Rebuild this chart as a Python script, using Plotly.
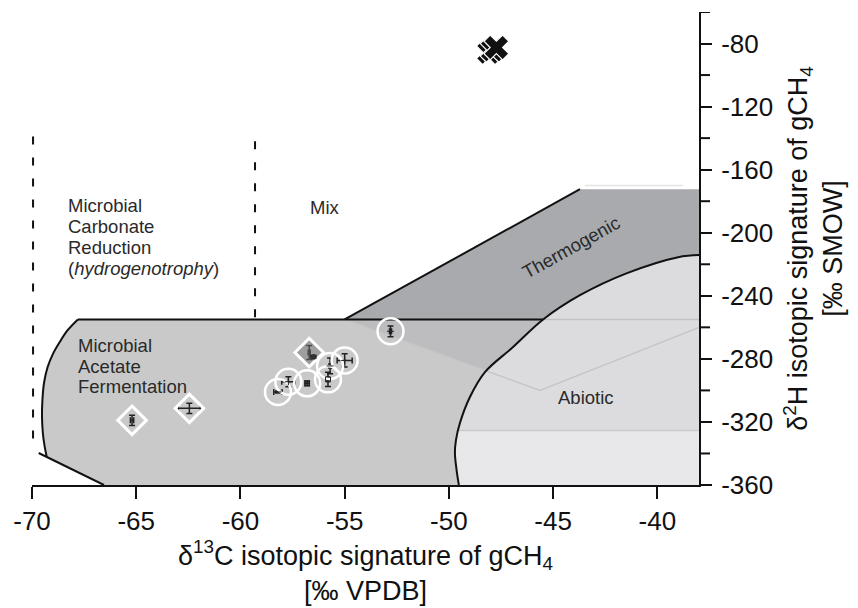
import plotly.graph_objects as go

# ---------------- axis ticks ----------------
x_tickvals = [-70, -65, -60, -55, -50, -45, -40]
x_ticktext = ["-70", "-65", "-60", "-55", "-50", "-45", "-40"]
y_tickvals = [-360, -320, -280, -240, -200, -160, -120, -80]
y_ticktext = ["-360", "-320", "-280", "-240", "-200", "-160", "-120", "-80"]
y_minorvals = [-340, -300, -260, -220, -180, -140, -100, -60]

# ---------------- field boundaries (data units) ----------------
abiotic_curve_x = [-49.52, -49.63, -49.71, -49.66, -49.47, -48.99, -48.27, -46.92, -45.48, -43.71, -41.45, -39.0, -38.0]
abiotic_curve_y = [-360.0, -350.5, -339.7, -331.5, -320.7, -304.2, -288.4, -272.5, -255.0, -239.6, -225.6, -215.5, -214.2]

acetate_left_x = [-67.8, -68.3, -68.7, -69.0, -69.25, -69.42, -69.5, -69.52, -69.48, -69.4, -69.29]
acetate_left_y = [-255.0, -262.0, -270.0, -277.0, -285.2, -295.0, -306.0, -317.0, -327.0, -335.0, -342.3]
acetate_stub_x = [-69.68, -66.55]
acetate_stub_y = [-339.7, -360.0]
acetate_top_y = -255.0

thermo_line_x = [-55.0, -43.71]
thermo_line_y = [-255.0, -172.4]
thermo_top_y = -172.4
thermo_v_x = [-55.0, -45.63, -38.0]
thermo_v_y = [-255.0, -300.0, -260.0]
abiotic_split_y = -325.5
faint_top_x = [-43.47, -38.76]
faint_top_y = [-170.0, -170.0]

dash_left_x = [-69.95, -69.95]
dash_left_y = [-139.0, -337.0]
dash_right_x = [-59.3, -59.3]
dash_right_y = [-142.0, -255.0]

# ---------------- samples ----------------
circle_x = [-58.2, -57.7, -56.8, -55.8, -55.7, -55.0, -52.8]
circle_y = [-301.0, -294.5, -295.5, -293.0, -284.5, -281.0, -262.5]
circle_ex = [0.2, 0.32, 0.1, 0.05, 0.05, 0.36, 0.05]
circle_ey = [0.6, 3.2, 1.5, 4.5, 5.0, 4.2, 3.4]
circle_inner = ["line-ew", "cross-thin", "circle-cross-open", "square-open", "line-ew", "cross-thin", "line-ew"]

diamond_x = [-65.2, -62.45, -56.7]
diamond_y = [-319.0, -311.4, -276.0]
diamond_ex = [0.08, 0.53, 0.05]
diamond_ey = [3.3, 3.2, 4.4]
diamond_fill = ["rgba(0,0,0,0)", "rgba(0,0,0,0)", "rgba(115,115,115,0.5)"]

extra_x = [-56.5]
extra_y = [-278.7]
extra_ex = [0.12]
extra_ey = [1.2]

thermo_pts_x = [-48.08, -47.9, -47.72]
thermo_pts_y = [-85.5, -84.0, -82.5]

FONT = "Liberation Sans, Arial, sans-serif"
fig = go.Figure()

def poly(xs, ys, fill, line_color="rgba(0,0,0,0)", width=0):
    fig.add_trace(go.Scatter(x=xs, y=ys, mode="lines", fill="toself", fillcolor=fill,
                             line=dict(color=line_color, width=width), hoverinfo="skip", showlegend=False))

def line(xs, ys, color, width, dash="solid", shape="linear"):
    fig.add_trace(go.Scatter(x=xs, y=ys, mode="lines", line=dict(color=color, width=width, dash=dash, shape=shape),
                             hoverinfo="skip", showlegend=False))

# abiotic background (upper tone); thermogenic field drawn over its top part
poly([-50.5, -38.0, -38.0, abiotic_curve_x[8], abiotic_curve_x[8], -50.5],
     [-360.0, -360.0, abiotic_curve_y[-1], abiotic_curve_y[-1], acetate_top_y, acetate_top_y], "#dcdcde")
# abiotic lower tone
poly([-50.5, -38.0, -38.0, -50.5], [-360.0, -360.0, abiotic_split_y, abiotic_split_y], "#e8e8ea")

# acetate field
ace_x = [acetate_stub_x[1]] + acetate_left_x[::-1] + [abiotic_curve_x[8]] + abiotic_curve_x[8::-1][1:]
ace_y = [acetate_stub_y[1]] + acetate_left_y[::-1] + [acetate_top_y] + abiotic_curve_y[8::-1][1:]
poly(ace_x, ace_y, "#c9c9c9")

# thermogenic field (upper)
th_x = [thermo_line_x[0], thermo_line_x[1], -38.0] + abiotic_curve_x[::-1][:5]
th_y = [thermo_line_y[0], thermo_top_y, thermo_top_y] + abiotic_curve_y[::-1][:5]
poly(th_x, th_y, "#a9aaad")
# thermogenic overlap below the acetate top (left of abiotic curve)
poly([-55.0, abiotic_curve_x[8], abiotic_curve_x[7], -48.2],
     [-255.0, abiotic_curve_y[8], abiotic_curve_y[7], -287.6], "#bdbdbf")

# faint lines
line(thermo_v_x, thermo_v_y, "#c6c6c8", 1.5)
line([abiotic_curve_x[8], -38.0], [acetate_top_y, acetate_top_y], "#c2c2c4", 1.5)
line([-49.55, -38.0], [abiotic_split_y, abiotic_split_y], "#cacacc", 1.5)
line(faint_top_x, faint_top_y, "#e4e4e4", 1.5)

# black outlines
line(abiotic_curve_x, abiotic_curve_y, "#111111", 2, shape="spline")
line(acetate_left_x, acetate_left_y, "#111111", 2, shape="spline")
line(acetate_stub_x, acetate_stub_y, "#111111", 2)
line([acetate_left_x[0], abiotic_curve_x[8]], [acetate_top_y, acetate_top_y], "#111111", 2)
line(thermo_line_x, thermo_line_y, "#111111", 2)
line(dash_left_x, dash_left_y, "#111111", 2, dash="8px,13px")
line(dash_right_x, dash_right_y, "#111111", 2, dash="8px,13px")

# samples: diamonds
fig.add_trace(go.Scatter(
    x=diamond_x, y=diamond_y, mode="markers",
    marker=dict(symbol="diamond", size=22, color=diamond_fill, line=dict(color="white", width=3)),
    error_x=dict(type="data", array=diamond_ex, color="#222222", thickness=1.5, width=3),
    error_y=dict(type="data", array=diamond_ey, color="#222222", thickness=1.5, width=3),
    showlegend=False))
fig.add_trace(go.Scatter(
    x=extra_x, y=extra_y, mode="markers",
    marker=dict(symbol="square", size=3, color="#333333"),
    error_x=dict(type="data", array=extra_ex, color="#222222", thickness=1.5, width=2),
    error_y=dict(type="data", array=extra_ey, color="#222222", thickness=1.5, width=2),
    showlegend=False))
# samples: circles
fig.add_trace(go.Scatter(
    x=circle_x, y=circle_y, mode="markers",
    marker=dict(symbol="circle-open", size=26, color="white", line=dict(width=2.5)),
    error_x=dict(type="data", array=circle_ex, color="#222222", thickness=1.5, width=3),
    error_y=dict(type="data", array=circle_ey, color="#222222", thickness=1.5, width=3),
    showlegend=False))
fig.add_trace(go.Scatter(
    x=circle_x, y=circle_y, mode="markers",
    marker=dict(symbol=circle_inner, size=5, color="#222222", line=dict(color="#222222", width=1)),
    showlegend=False, hoverinfo="skip"))
# thermogenic samples at top
fig.add_trace(go.Scatter(
    x=thermo_pts_x, y=thermo_pts_y, mode="markers",
    marker=dict(symbol="x", size=22, color="#111111", line=dict(color="white", width=1.2)),
    showlegend=False))

# unlabeled intermediate ticks on the right axis
for v in y_minorvals:
    fig.add_shape(type="line", xref="paper", yref="y", x0=1.0, x1=1.0 + 11 / 667, y0=v, y1=v,
                  line=dict(color="#111111", width=2), layer="above")

# labels
TXT = dict(family=FONT, size=18.5, color="#2a2a2a")
labels = [
    ("Microbial", -68.38, -182.8), ("Carbonate", -68.38, -195.8), ("Reduction", -68.38, -209.1),
    ("(<i>hydrogenotrophy</i>)", -68.38, -222.4),
    ("Microbial", -67.9, -271.3), ("Acetate", -67.9, -284.6), ("Fermentation", -67.9, -297.6),
]
for t, x, y in labels:
    fig.add_annotation(x=x, y=y, text=t, showarrow=False, xanchor="left", yanchor="middle", font=TXT)
fig.add_annotation(x=-55.95, y=-183.8, text="Mix", showarrow=False, font=TXT)
fig.add_annotation(x=-44.16, y=-209.1, text="Thermogenic", showarrow=False, textangle=-29, font=TXT)
fig.add_annotation(x=-43.42, y=-304.2, text="Abiotic", showarrow=False, font=TXT)

fig.update_layout(
    width=858, height=608,
    margin=dict(l=32, r=159, t=12, b=123, autoexpand=False),
    paper_bgcolor="white", plot_bgcolor="white",
    font=dict(family=FONT, color="#111111"),
    showlegend=False,
    xaxis=dict(range=[-70, -38], tickvals=x_tickvals, ticktext=x_ticktext, automargin=False,
               showgrid=False, zeroline=False, showline=True, linecolor="#111111", linewidth=2,
               ticks="outside", ticklen=12, tickwidth=2, tickcolor="#111111",
               tickfont=dict(size=26, family=FONT, color="#111111"),
               title=dict(text="δ<sup>13</sup>C isotopic signature of gCH<sub>4</sub><br>[‰ VPDB]",
                          font=dict(size=27, family=FONT, color="#111111"), standoff=10)),
    yaxis=dict(range=[-360, -60], side="right", tickvals=y_tickvals, ticktext=y_ticktext, automargin=False,
               showgrid=False, zeroline=False, showline=True, linecolor="#111111", linewidth=2,
               ticks="outside", ticklen=11, tickwidth=2, tickcolor="#111111",
               ticklabelstandoff=4,
               tickfont=dict(size=26, family=FONT, color="#111111"),
               title=dict(text="δ<sup>2</sup>H isotopic signature of gCH<sub>4</sub><br>[‰ SMOW]",
                          font=dict(size=27, family=FONT, color="#111111"), standoff=16)),
)

fig.write_html("out.html")
